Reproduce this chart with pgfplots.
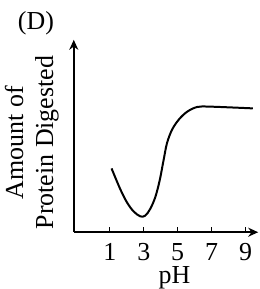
\documentclass[border=0pt]{standalone}
\usepackage{pgfplots}
\pgfplotsset{compat=1.18}
\usepackage{fontspec}
\setmainfont{Liberation Serif}
\usetikzlibrary{arrows.meta}
\begin{document}
\begin{tikzpicture}
\begin{axis}[
  scale only axis,
  width=92.5pt, height=96.5pt,
  xmin=-1.13, xmax=9.75, ymin=0, ymax=190,
  axis lines=left,
  axis line style={line width=1pt, -{Stealth[length=5pt,width=4.5pt]}},
  font=\fontsize{13}{15}\selectfont,
  xtick={1,3,5,7,9}, ytick=\empty,
  xtick align=inside,
  major tick length=2.5pt,
  tick style={line width=0.6pt, black},
  /pgf/number format/assume math mode=true,
  xticklabel style={yshift=-2pt},
  xlabel={pH},
  xlabel style={at={(axis description cs:0.546,0)}, anchor=north, yshift=-17pt, inner sep=0pt},
  ylabel={Amount of\\Protein Digested},
  ylabel style={at={(axis description cs:-0.08,0.466)}, anchor=south, align=center, inner sep=0pt},
  clip=false,
]
\addplot[black, line width=1pt, smooth, tension=0.55] coordinates {
 (1.1,63) (1.6,43) (2.0,29.7) (2.39,20.7) (2.79,15.7) (3.08,16.3) (3.38,23)
 (3.68,34.7) (3.94,51.3) (4.17,71.3) (4.37,88) (4.67,101.3) (5.07,111.3)
 (5.56,119) (6.16,123.7) (6.95,124) (9.43,122.3)
};
\node at (axis description cs:-0.205,1.088) {(D)};
\path (axis description cs:-0.4,-0.29) rectangle (axis description cs:1.0,1.207);
\end{axis}
\end{tikzpicture}
\end{document}
